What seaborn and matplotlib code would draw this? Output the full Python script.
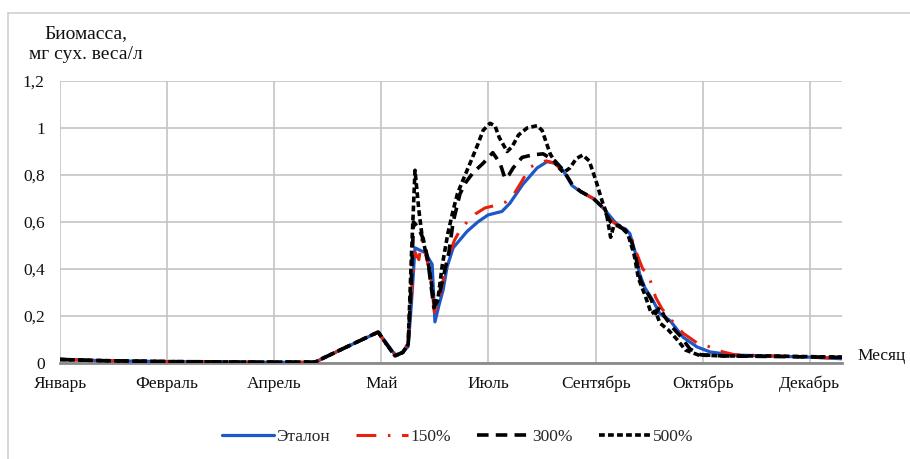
import matplotlib
matplotlib.use("Agg")
import matplotlib.pyplot as plt
from matplotlib.lines import Line2D
import seaborn as sns

# ---------------- data (day of year, biomass) ----------------
tick_days = [0, 50, 100, 150, 200, 250, 300, 350]
tick_labels = ["Январь", "Февраль", "Апрель", "Май", "Июль", "Сентябрь", "Октябрь", "Декабрь"]
y_ticks = [0, 0.2, 0.4, 0.6, 0.8, 1.0, 1.2]
y_tick_labels = ["0", "0,2", "0,4", "0,6", "0,8", "1", "1,2"]

etalon_day = [0, 20, 50, 90, 119, 133, 148.5, 152, 156.4, 159.7, 162.5, 164, 165.7, 168, 170.4,
              173.7, 175, 177, 178.8, 180.7, 183.5, 190, 195, 199.8, 206.3, 210, 216, 222.7, 227.4,
              231, 234.8, 239, 242.8, 248.8, 253.5, 259, 261.4, 264, 266, 268.5, 270.5, 273, 276.5,
              280, 284.8, 290.8, 297.4, 303.5, 314, 330, 350, 365]
etalon_val = [0.015, 0.01, 0.006, 0.003, 0.003, 0.065, 0.131, 0.09, 0.034, 0.045, 0.07, 0.25, 0.49,
              0.48, 0.47, 0.42, 0.175, 0.25, 0.31, 0.41, 0.49, 0.56, 0.60, 0.63, 0.645, 0.68, 0.76,
              0.83, 0.857, 0.85, 0.82, 0.755, 0.73, 0.70, 0.66, 0.60, 0.58, 0.57, 0.55, 0.47, 0.38,
              0.32, 0.27, 0.21, 0.18, 0.11, 0.068, 0.047, 0.034, 0.03, 0.025, 0.018]

p150_day = [0, 20, 50, 90, 119, 133, 148.5, 152, 156.4, 160, 162.5, 164, 165.7, 167.5, 169, 171,
            173, 175, 177, 179, 181, 184, 187, 190, 194, 198.4, 203, 208, 212, 216, 219, 222.7, 227,
            231, 234, 237, 240, 243, 249, 253.5, 258, 262, 266, 269, 272, 274.5, 278, 281, 285.6,
            290.8, 297.4, 303.5, 309.5, 315, 340, 365]
p150_val = [0.016, 0.01, 0.006, 0.003, 0.003, 0.065, 0.13, 0.085, 0.04, 0.055, 0.08, 0.3, 0.47,
            0.44, 0.53, 0.45, 0.37, 0.195, 0.27, 0.36, 0.44, 0.52, 0.57, 0.60, 0.635, 0.66, 0.67,
            0.685, 0.72, 0.78, 0.83, 0.85, 0.86, 0.85, 0.82, 0.79, 0.75, 0.73, 0.70, 0.66, 0.60,
            0.575, 0.555, 0.47, 0.40, 0.38, 0.28, 0.23, 0.18, 0.127, 0.085, 0.068, 0.047, 0.035,
            0.028, 0.02]

p300_day = [0, 20, 50, 90, 119, 133, 148.5, 152, 156.4, 160, 162.5, 164, 165, 167, 169.5, 171.5,
            174.5, 176.5, 179, 181.5, 183.5, 186.7, 189.5, 192.8, 197.5, 202, 205.4, 207.7, 209.5,
            211.5, 215.7, 220.8, 225.5, 231, 235, 239, 243, 249, 253, 257, 261, 264, 267, 269, 271,
            274, 276, 278, 280, 282, 286, 290, 294, 299, 310, 330, 350, 365]
p300_val = [0.015, 0.01, 0.006, 0.004, 0.004, 0.065, 0.132, 0.085, 0.03, 0.045, 0.08, 0.35, 0.60,
            0.58, 0.53, 0.45, 0.235, 0.27, 0.37, 0.47, 0.60, 0.72, 0.77, 0.81, 0.85, 0.895, 0.85,
            0.785, 0.80, 0.83, 0.875, 0.886, 0.89, 0.86, 0.82, 0.76, 0.73, 0.70, 0.665, 0.60, 0.58,
            0.565, 0.51, 0.44, 0.35, 0.30, 0.27, 0.21, 0.24, 0.20, 0.15, 0.11, 0.06, 0.035, 0.03,
            0.028, 0.026, 0.024]

p500_day = [0, 20, 50, 90, 119, 133, 148.5, 152, 156.4, 160, 162.5, 164, 165.7, 167.5, 169, 172,
            175, 176.5, 178.5, 181, 183.5, 185.5, 187.7, 191.4, 195, 197.5, 200.7, 203, 205, 208.7,
            211, 214, 218, 222.7, 225, 228.8, 232, 235, 238, 241, 244, 247, 250, 253, 255, 257,
            258.5, 261, 265, 268, 270, 273, 276, 278, 280, 284, 288, 292, 298, 310, 330, 350, 365]
p500_val = [0.015, 0.01, 0.006, 0.004, 0.004, 0.065, 0.132, 0.085, 0.03, 0.045, 0.08, 0.45, 0.82,
            0.65, 0.54, 0.42, 0.24, 0.28, 0.42, 0.55, 0.65, 0.72, 0.77, 0.85, 0.93, 0.99, 1.02,
            1.01, 0.96, 0.90, 0.92, 0.97, 1.0, 1.01, 0.99, 0.89, 0.84, 0.81, 0.83, 0.87, 0.885,
            0.86, 0.78, 0.69, 0.64, 0.535, 0.585, 0.585, 0.55, 0.46, 0.36, 0.29, 0.21, 0.22, 0.17,
            0.14, 0.10, 0.055, 0.034, 0.03, 0.03, 0.027, 0.025]

series_names = ["Эталон", "150%", "300%", "500%"]

# ---------------- figure ----------------
sns.set_theme(style="white")
plt.rcParams["font.family"] = ["Liberation Serif", "DejaVu Serif"]

fig = plt.figure(figsize=(9.10, 4.59), dpi=100)
ax = fig.add_axes([60 / 910, 1 - 363 / 459, 782 / 910, 282 / 459])

blue = "#1c58c8"
red = "#e8210e"

sns.lineplot(x=etalon_day, y=etalon_val, ax=ax, color=blue, lw=2.3,
             estimator=None, errorbar=None, label=series_names[0], zorder=3)
sns.lineplot(x=p150_day, y=p150_val, ax=ax, color=red, lw=2.2,
             linestyle=(0, (6.5, 3.8, 0.8, 3.8)),
             estimator=None, errorbar=None, label=series_names[1], zorder=4)
sns.lineplot(x=p300_day, y=p300_val, ax=ax, color="black", lw=2.6,
             linestyle=(0, (3.2, 2.0)),
             estimator=None, errorbar=None, label=series_names[2], zorder=5)
sns.lineplot(x=p500_day, y=p500_val, ax=ax, color="black", lw=2.6,
             linestyle=(0, (1.6, 0.9)),
             estimator=None, errorbar=None, label=series_names[3], zorder=6)

ax.set_xlim(0, 365)
ax.set_ylim(0, 1.2)
ax.set_xticks(tick_days)
ax.set_xticklabels(tick_labels)
ax.set_yticks(y_ticks)
ax.set_yticklabels(y_tick_labels)
ax.tick_params(axis="both", length=0, labelsize=12.5, colors="#111111")
ax.tick_params(axis="y", pad=11)
ax.tick_params(axis="x", pad=9)
ax.set_xlabel("")
ax.set_ylabel("")

ax.grid(True, color="#c4c4c4", lw=1.2)
ax.set_axisbelow(True)
for s in ["left", "right", "top"]:
    ax.spines[s].set_visible(False)
ax.spines["bottom"].set_color("#8a8a8a")
ax.spines["bottom"].set_linewidth(2.0)
ax.spines["bottom"].set_zorder(2)

handles, labels = ax.get_legend_handles_labels()
ax.get_legend().remove()
fig.legend(handles, labels, loc="center", bbox_to_anchor=(0.503, 1 - 437 / 459),
           ncol=4, frameon=False, fontsize=12.5, handlelength=3.0,
           handletextpad=0.15, columnspacing=1.5)

fig.text(86 / 910, 1 - 44 / 459, "Биомасса,\nмг сух. веса/л", ha="center", va="center",
         fontsize=14, linespacing=1.25, color="#111111")
fig.text(857 / 910, 1 - 356 / 459, "Месяц", ha="left", va="center", fontsize=12.5,
         color="#111111")

# outer frame (top and left edges visible in the reference)
fig.add_artist(Line2D([8 / 910, 1.0], [1 - 13 / 459, 1 - 13 / 459], color="#d0d0d0", lw=1.2,
                      transform=fig.transFigure))
fig.add_artist(Line2D([8 / 910, 8 / 910], [0.0, 1 - 13 / 459], color="#d0d0d0", lw=1.2,
                      transform=fig.transFigure))

fig.savefig("out.png", dpi=100, facecolor="white")
